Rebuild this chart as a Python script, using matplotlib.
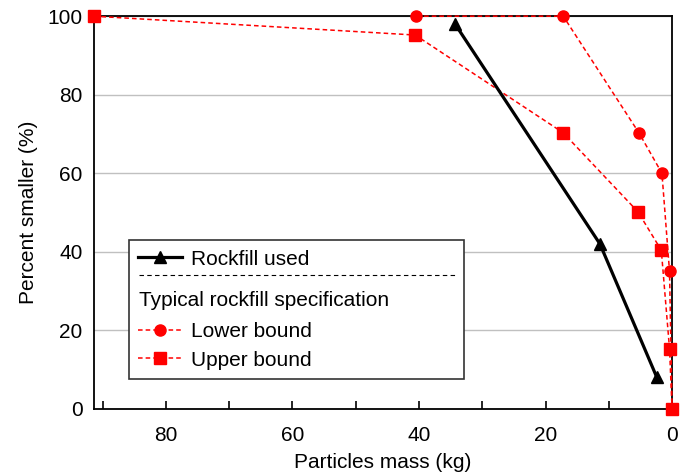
import matplotlib
matplotlib.use("Agg")
import matplotlib.pyplot as plt
from matplotlib.lines import Line2D
from matplotlib.ticker import MultipleLocator

plt.rcParams['font.family'] = ['Liberation Sans', 'DejaVu Sans']
plt.rcParams['font.size'] = 15

# data (mass in kg, percent smaller)
rock_mass = [34.3, 11.4, 2.4]
rock_pct = [98, 42, 8]

lower_mass = [40.4, 17.2, 5.2, 1.6, 0.4, 0.0]
lower_pct = [100, 100, 70.2, 60.0, 35.0, 0]

upper_mass = [91.4, 40.6, 17.2, 5.4, 1.7, 0.4, 0.0]
upper_pct = [100, 95.2, 70.3, 50.2, 40.4, 15.3, 0]

red = '#ff0000'

fig = plt.figure(figsize=(6.9, 4.76), dpi=100)
ax = fig.add_axes([0.136, 0.141, 0.838, 0.825])

# spec bounds first, rockfill line goes on top
ln_low, = ax.plot(lower_mass, lower_pct, color=red, lw=1.1, ls=(0, (3, 2)),
                  marker='o', ms=8, mec=red, mfc=red, clip_on=False, zorder=3)
ln_up, = ax.plot(upper_mass, upper_pct, color=red, lw=1.1, ls=(0, (3, 2)),
                 marker='s', ms=8, mec=red, mfc=red, clip_on=False, zorder=3)
ln_rock, = ax.plot(rock_mass, rock_pct, color='black', lw=2.3,
                   marker='^', ms=9, clip_on=False, zorder=4)

ax.set_xlim(91.4, 0)
ax.set_ylim(0, 100)
ax.xaxis.set_major_locator(MultipleLocator(20))
ax.xaxis.set_minor_locator(MultipleLocator(10))
ax.yaxis.set_major_locator(MultipleLocator(20))
ax.tick_params(axis='x', which='both', direction='in', length=6, width=1.2, pad=12)
ax.tick_params(axis='y', length=0, pad=8)
ax.grid(axis='y', color='#c0c0c0', lw=1)
ax.set_axisbelow(True)
for s in ax.spines.values():
    s.set_linewidth(1.3)

ax.set_xlabel('Particles mass (kg)', labelpad=6)
ax.set_ylabel('Percent smaller (%)', labelpad=7)

# legend with a blank row for the specification header
blank = Line2D([], [], linestyle='none')
leg = ax.legend([ln_rock, blank, ln_low, ln_up],
                ['Rockfill used', ' ', 'Lower bound', 'Upper bound'],
                loc='lower left', bbox_to_anchor=(0.061, 0.076, 0.579, 0.3),
                mode='expand', borderaxespad=0, fancybox=False,
                edgecolor='#333333', framealpha=1, handlelength=2.1,
                handletextpad=0.4, borderpad=0.45, labelspacing=0.45)
leg.get_frame().set_linewidth(1.2)
leg.get_texts()[1].set_fontsize(26)

fig.canvas.draw()
inv = fig.transFigure.inverted()
frame = leg.get_frame().get_window_extent()
t_rock = leg.get_texts()[0].get_window_extent()
t_low = leg.get_texts()[2].get_window_extent()
x0 = frame.x0 + 10
sep_y = (t_rock.y0 + t_rock.y1) / 2 - 16
(fx0, fy), (fx1, _) = inv.transform([(x0, sep_y), (frame.x1 - 9, sep_y)])
fig.add_artist(Line2D([fx0, fx1], [fy, fy], color='black', lw=0.8, ls=(0, (4, 3))))
tx, ty = inv.transform((x0, (t_low.y0 + t_low.y1) / 2 + 31))
fig.text(tx, ty, 'Typical rockfill specification', va='center', ha='left')

fig.savefig('out.png', dpi=100)
